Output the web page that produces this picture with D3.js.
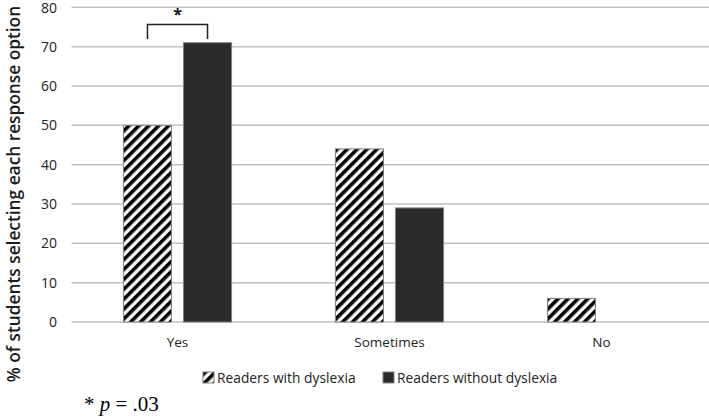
<!DOCTYPE html>
<html><head><meta charset="utf-8">
<script src="https://cdn.jsdelivr.net/npm/d3@7"></script>
<style>body{margin:0;background:#fff}svg{display:block}</style>
</head><body>
<script>
const categories = ["Yes", "Sometimes", "No"];
const seriesNames = ["Readers with dyslexia", "Readers without dyslexia"];
const withDyslexia = [50, 44, 6];
const withoutDyslexia = [71, 29, 0];
const yTicks = [0, 10, 20, 30, 40, 50, 60, 70, 80];

const W = 709, H = 417;
const svg = d3.select("body").append("svg").attr("width", W).attr("height", H);
const defs = svg.append("defs");
const pat = defs.append("pattern").attr("id", "hatch").attr("patternUnits", "userSpaceOnUse")
  .attr("width", 7).attr("height", 7).attr("patternTransform", "rotate(45)");
pat.append("rect").attr("width", 7).attr("height", 7).attr("fill", "#fff");
pat.append("rect").attr("width", 3.6).attr("height", 7).attr("fill", "#000");

const x0 = d3.scaleBand().domain(categories).range([71.5, 707.5]).paddingInner(0.49).paddingOuter(0.245);
const x1 = d3.scaleBand().domain(seriesNames).range([0, x0.bandwidth()]).paddingInner(0.2).paddingOuter(0);
const y = d3.scaleLinear().domain([0, 80]).range([322, 7.3]);

// gridlines
svg.append("g").selectAll("line").data(yTicks).join("line")
  .attr("x1", 71.5).attr("x2", W).attr("y1", d => y(d)).attr("y2", d => y(d))
  .attr("stroke", "#c2c2c2").attr("stroke-width", 1.5);

// y tick labels via axis
const yAxis = svg.append("g").attr("transform", "translate(61,0)")
  .call(d3.axisLeft(y).tickValues(yTicks).tickSize(0).tickPadding(4));
yAxis.select(".domain").remove();
yAxis.selectAll("text").attr("font-family", "Open Sans, sans-serif").attr("font-size", 14).attr("fill", "#222")
  .attr("dy", d => d === 80 ? "0.4em" : "0.32em");

// bars
const data = categories.map((c, i) => ({c, vals: [withDyslexia[i], withoutDyslexia[i]]}));
const fills = ["url(#hatch)", "#2b2b2b"];
const groups = svg.append("g").selectAll("g").data(data).join("g")
  .attr("transform", d => `translate(${x0(d.c)},0)`);
groups.selectAll("rect").data(d => d.vals.map((v, j) => ({v, s: seriesNames[j], j})).filter(e => e.v > 0))
  .join("rect")
  .attr("x", e => x1(e.s)).attr("width", x1.bandwidth())
  .attr("y", e => y(e.v)).attr("height", e => y(0) - y(e.v))
  .attr("fill", e => fills[e.j]).attr("stroke", "#808080").attr("stroke-width", 1);

// x labels
const xAxis = svg.append("g").attr("transform", "translate(0,322)")
  .call(d3.axisBottom(x0).tickSize(0).tickPadding(15));
xAxis.select(".domain").remove();
xAxis.selectAll("text").attr("font-family", "Open Sans, sans-serif").attr("font-size", 13.5).attr("fill", "#222");

// significance bracket
const bx1 = x0("Yes") + x1(seriesNames[0]) + x1.bandwidth() / 2;
const bx2 = x0("Yes") + x1(seriesNames[1]) + x1.bandwidth() / 2;
svg.append("path").attr("d", `M${bx1},39V24.5H${bx2}V39`).attr("fill", "none").attr("stroke", "#222").attr("stroke-width", 1.5);
svg.append("text").attr("x", (bx1 + bx2) / 2).attr("y", 20).attr("text-anchor", "middle")
  .attr("font-family", "Open Sans, sans-serif").attr("font-weight", 700).attr("font-size", 16).attr("fill", "#111").text("*");

// y title
svg.append("text").attr("transform", "translate(20,194) rotate(-90)").attr("text-anchor", "middle")
  .attr("font-family", "Open Sans, sans-serif").attr("font-weight", 600).attr("font-size", 17.3).attr("fill", "#1a1a1a")
  .text("% of students selecting each response option");

// legend
const legend = [{s: seriesNames[0], x: 203, f: "url(#hatch)"}, {s: seriesNames[1], x: 383, f: "#2b2b2b"}];
const lg = svg.append("g").selectAll("g").data(legend).join("g").attr("transform", d => `translate(${d.x},372)`);
lg.append("rect").attr("width", 11).attr("height", 11).attr("fill", d => d.f).attr("stroke", "#808080").attr("stroke-width", 1);
lg.append("text").attr("x", 14).attr("y", 10.5).attr("font-family", "Open Sans, sans-serif").attr("font-size", 13.8).attr("fill", "#222").text(d => d.s);

// footnote
const fn = svg.append("text").attr("x", 84).attr("y", 411).attr("font-family", "Liberation Serif, Times New Roman, serif").attr("font-size", 21).attr("fill", "#000");
fn.append("tspan").text("* ");
fn.append("tspan").attr("font-style", "italic").text("p");
fn.append("tspan").text(" = .03");
</script>
</body></html>
